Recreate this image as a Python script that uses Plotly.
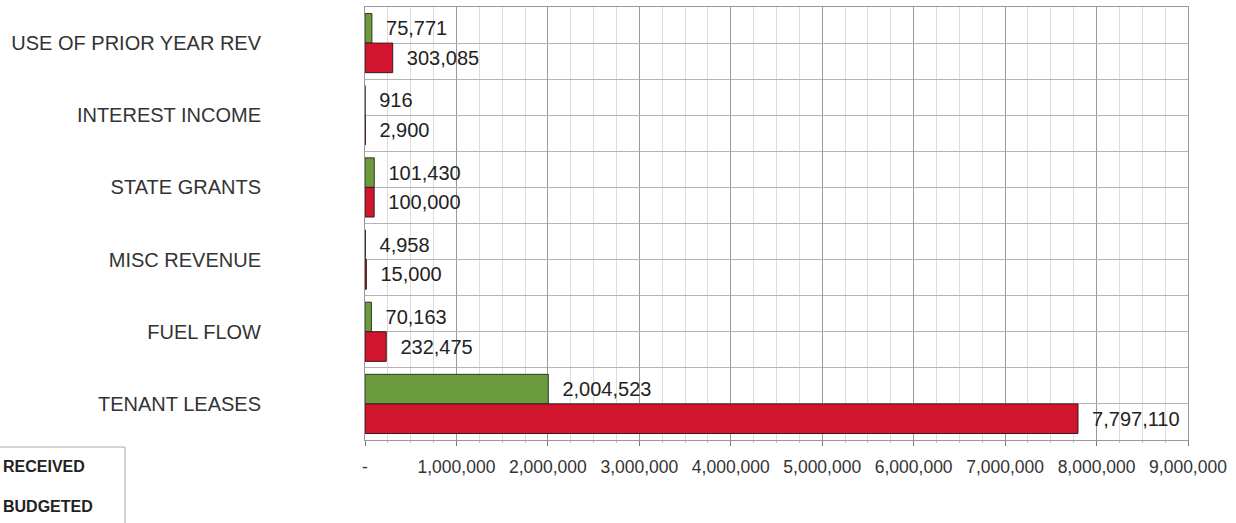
import plotly.graph_objects as go

# Revenue categories, listed top to bottom
categories = [
    "USE OF PRIOR YEAR REV",
    "INTEREST INCOME",
    "STATE GRANTS",
    "MISC REVENUE",
    "FUEL FLOW",
    "TENANT LEASES",
]
received = [75771, 916, 101430, 4958, 70163, 2004523]
budgeted = [303085, 2900, 100000, 15000, 232475, 7797110]

x_tickvals = [0, 1000000, 2000000, 3000000, 4000000, 5000000, 6000000, 7000000, 8000000, 9000000]
x_ticktext = ["-", "1,000,000", "2,000,000", "3,000,000", "4,000,000",
              "5,000,000", "6,000,000", "7,000,000", "8,000,000", "9,000,000"]

W, H = 1236, 523
L, R, T, B = 365, 48, 7, 83
plot_w = W - L - R
plot_h = H - T - B

FONT = "Liberation Sans, Arial, sans-serif"
positions = list(range(len(categories)))

fig = go.Figure()
fig.add_trace(go.Bar(
    name="RECEIVED", y=positions, x=received, orientation="h",
    marker=dict(color="#6a9a3c", line=dict(color="#2f3a22", width=1)),
    text=received, texttemplate="\u00a0\u00a0%{x:,}", textposition="outside",
    textfont=dict(family=FONT, size=20, color="#222"), cliponaxis=False,
))
fig.add_trace(go.Bar(
    name="BUDGETED", y=positions, x=budgeted, orientation="h",
    marker=dict(color="#d2152e", line=dict(color="#3a1a1a", width=1)),
    text=budgeted, texttemplate="\u00a0\u00a0%{x:,}", textposition="outside",
    textfont=dict(family=FONT, size=20, color="#222"), cliponaxis=False,
))

fig.update_layout(
    width=W, height=H,
    margin=dict(l=L, r=R, t=T, b=B, autoexpand=False),
    paper_bgcolor="white", plot_bgcolor="white",
    barmode="group", bargap=0.18, bargroupgap=0,
    showlegend=False,
    font=dict(family=FONT, color="#222"),
)

fig.update_xaxes(
    range=[0, 9000000],
    tickmode="array", tickvals=x_tickvals, ticktext=x_ticktext,
    tickfont=dict(family=FONT, size=17.5, color="#333"),
    ticks="outside", ticklen=5, tickcolor="#777",
    showgrid=True, gridcolor="#9a9a9a", gridwidth=1,
    minor=dict(dtick=250000, tick0=0, showgrid=True, gridcolor="#dcdcdc", gridwidth=1,
               ticks="outside", ticklen=2, tickcolor="#bbb"),
    showline=True, linecolor="#999", linewidth=1, mirror=True,
    zeroline=False, ticklabelstandoff=6,
)

fig.update_yaxes(
    range=[len(categories) - 0.5, -0.5],
    tickmode="array", tickvals=positions, ticktext=categories,
    tickfont=dict(family=FONT, size=20, color="#333"),
    ticks="", ticklabelstandoff=99,
    showgrid=True, gridcolor="#b4b4b4", gridwidth=1,
    minor=dict(tickvals=[p - 0.5 for p in positions] + [len(categories) - 0.5],
               showgrid=True, gridcolor="#b4b4b4", gridwidth=1),
    showline=True, linecolor="#999", linewidth=1, mirror=True,
    zeroline=False,
)


def px_x(px):
    return (px - L) / plot_w


def px_y(py):
    return (H - B - py) / plot_h


# Legend box, partly running off the left edge of the page
fig.add_shape(type="rect", xref="paper", yref="paper",
              x0=px_x(-10), x1=px_x(125), y0=px_y(540), y1=px_y(447),
              line=dict(color="#aaa", width=1), fillcolor="rgba(0,0,0,0)")
for label, cy in (("RECEIVED", 466), ("BUDGETED", 507)):
    fig.add_annotation(xref="paper", yref="paper", x=px_x(1), y=px_y(cy),
                       xanchor="left", yanchor="middle", showarrow=False,
                       text=f"<b>{label}</b>",
                       font=dict(family=FONT, size=16, color="#222"))

fig.write_html("out.html")
